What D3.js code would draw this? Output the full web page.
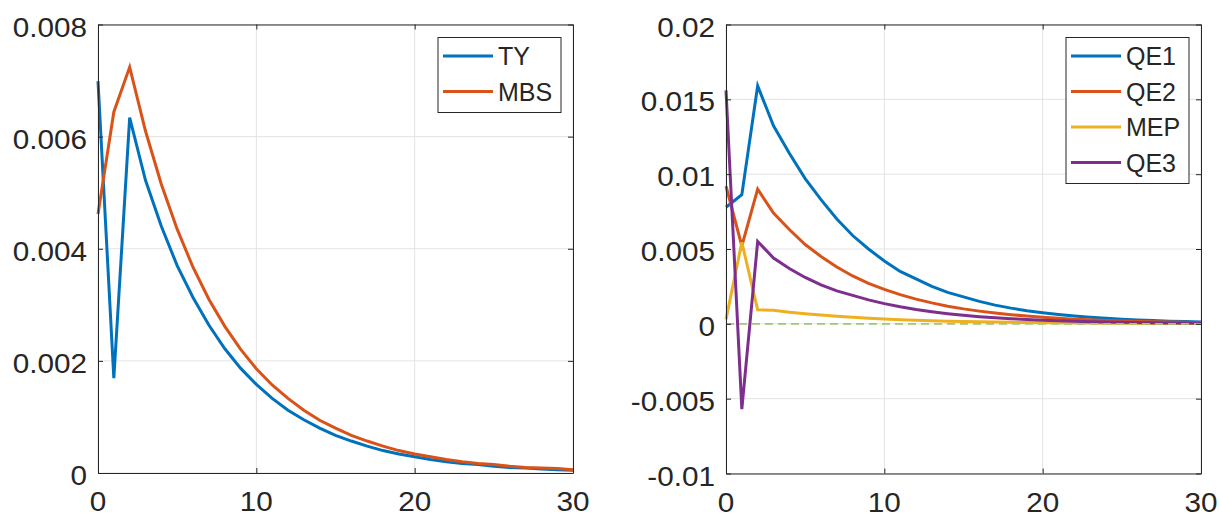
<!DOCTYPE html>
<html>
<head>
<meta charset="utf-8">
<script src="https://cdn.jsdelivr.net/npm/d3@7"></script>
<style>
  html, body { margin: 0; padding: 0; background: #fff; }
  svg { display: block; }
  text { font-family: Arial, "Liberation Sans", Helvetica, sans-serif; fill: #262626; }
</style>
</head>
<body>
<svg id="chart" width="1219" height="517"></svg>
<script>
// Horizon (periods after the shock)
const periods = d3.range(0, 31);

// Left panel: responses by asset class
const tyValues = [0.00699, 0.00169, 0.00634, 0.00522, 0.0044, 0.0037, 0.00313, 0.00264, 0.00222, 0.00187,
  0.00158, 0.00133, 0.00112, 0.00095, 0.0008, 0.00067, 0.00057, 0.00048, 0.0004, 0.00034,
  0.00029, 0.00024, 0.0002, 0.00017, 0.00015, 0.00012, 0.0001, 0.00009, 0.00007, 0.00006, 0.00005];
const mbsValues = [0.00462, 0.00644, 0.00724, 0.0061, 0.00515, 0.00435, 0.00367, 0.0031, 0.00262, 0.00221,
  0.00186, 0.00157, 0.00133, 0.00112, 0.00094, 0.0008, 0.00067, 0.00057, 0.00048, 0.0004,
  0.00034, 0.00029, 0.00024, 0.0002, 0.00017, 0.00015, 0.00012, 0.0001, 0.00009, 0.00008, 0.00006];

// Right panel: responses by programme
const qe1Values = [0.00779, 0.00863, 0.0159, 0.01323, 0.0114, 0.0097, 0.0083, 0.007, 0.0059, 0.005,
  0.0042, 0.0035, 0.003, 0.0025, 0.0021, 0.0018, 0.0015, 0.00125, 0.00105, 0.00088,
  0.00074, 0.00062, 0.00052, 0.00044, 0.00037, 0.00031, 0.00026, 0.00022, 0.00018, 0.00015, 0.00013];
const qe2Values = [0.0092, 0.0052, 0.009, 0.0074, 0.0063, 0.0053, 0.0045, 0.0038, 0.0032, 0.0027,
  0.0023, 0.00195, 0.00165, 0.0014, 0.00118, 0.001, 0.00085, 0.00072, 0.00061, 0.00052,
  0.00044, 0.00037, 0.00031, 0.00027, 0.00023, 0.00019, 0.00016, 0.00014, 0.00012, 0.0001, 0.00008];
const mepValues = [0.0003, 0.00545, 0.00094, 0.0009, 0.00078, 0.00068, 0.00059, 0.00051, 0.00044, 0.00038,
  0.00033, 0.00028, 0.00024, 0.00021, 0.00018, 0.00016, 0.00014, 0.00012, 0.0001, 0.00009,
  0.00008, 0.00007, 0.00006, 0.00005, 0.00004, 0.00004, 0.00003, 0.00003, 0.00002, 0.00002, 0.00002];
const qe3Values = [0.0156, -0.0057, 0.0055, 0.0044, 0.0037, 0.0031, 0.0026, 0.0022, 0.0019, 0.0016,
  0.00135, 0.00114, 0.00096, 0.00081, 0.00068, 0.00057, 0.00048, 0.0004, 0.00034, 0.00029,
  0.00024, 0.0002, 0.00017, 0.00014, 0.00012, 0.0001, 0.00009, 0.00007, 0.00006, 0.00005, 0.00004];

// Tick values
const xTicks = [0, 10, 20, 30];
const leftYTicks = [0, 0.002, 0.004, 0.006, 0.008];
const leftYLabels = ["0", "0.002", "0.004", "0.006", "0.008"];
const rightYTicks = [-0.01, -0.005, 0, 0.005, 0.01, 0.015, 0.02];
const rightYLabels = ["-0.01", "-0.005", "0", "0.005", "0.01", "0.015", "0.02"];

const colors = ["#0072BD", "#D95319", "#EDB120", "#7E2F8E"];

const svg = d3.select("#chart");

function panel(opts) {
  const { x0, x1, y0, y1, yDomain, yTicks, yLabels, series, zeroLine, legend } = opts;
  const x = d3.scaleLinear().domain([0, 30]).range([x0, x1]);
  const y = d3.scaleLinear().domain(yDomain).range([y1, y0]);
  const g = svg.append("g");

  // grid
  const grid = g.append("g").attr("stroke", "#e3e3e3").attr("stroke-width", 1);
  xTicks.forEach(t => grid.append("line")
    .attr("x1", x(t)).attr("x2", x(t)).attr("y1", y0).attr("y2", y1));
  yTicks.forEach(t => grid.append("line")
    .attr("x1", x0).attr("x2", x1).attr("y1", y(t)).attr("y2", y(t)));

  // series lines
  const line = d3.line().x((d, i) => x(periods[i])).y(d => y(d));
  series.forEach(s => g.append("path")
    .datum(s.values)
    .attr("fill", "none")
    .attr("stroke", s.color)
    .attr("stroke-width", 3)
    .attr("stroke-linejoin", "miter")
    .attr("d", line));

  if (zeroLine) {
    g.append("line")
      .attr("x1", x(0)).attr("x2", x(30)).attr("y1", y(0)).attr("y2", y(0))
      .attr("stroke", "#9ccc6e")
      .attr("stroke-width", 1.6).attr("stroke-dasharray", "8,5");
  }

  // axes (box on, inward ticks on every side)
  const axisColor = "#262626";
  const tick = 5;
  const bottom = d3.axisBottom(x).tickValues(xTicks).tickSizeInner(-tick).tickSizeOuter(0).tickFormat("");
  const top = d3.axisTop(x).tickValues(xTicks).tickSizeInner(-tick).tickSizeOuter(0).tickFormat("");
  const left = d3.axisLeft(y).tickValues(yTicks).tickSizeInner(-tick).tickSizeOuter(0).tickFormat("");
  const right = d3.axisRight(y).tickValues(yTicks).tickSizeInner(-tick).tickSizeOuter(0).tickFormat("");
  [[bottom, `translate(0,${y1})`], [top, `translate(0,${y0})`],
   [left, `translate(${x0},0)`], [right, `translate(${x1},0)`]].forEach(([ax, tr]) => {
    const a = g.append("g").attr("transform", tr).call(ax);
    a.selectAll("path, line").attr("stroke", axisColor).attr("stroke-width", 1);
  });

  // tick labels (slightly wide lettering)
  const stretch = 1.1;
  xTicks.forEach(t => g.append("text")
    .attr("transform", `translate(${x(t)},${y1 + 38}) scale(${stretch},1)`)
    .attr("text-anchor", "middle")
    .style("font-size", "27px")
    .text(String(t)));
  yTicks.forEach((t, i) => g.append("text")
    .attr("transform", `translate(${x0 - 11},${y(t) + 12}) scale(${stretch},1)`)
    .attr("text-anchor", "end")
    .style("font-size", "27px")
    .text(yLabels[i]));

  // legend
  const lg = g.append("g");
  const rowH = 35.5;
  const bx = legend.x, by = legend.y, bw = legend.w, bh = 2 + series.length * rowH + 2;
  lg.append("rect").attr("x", bx).attr("y", by).attr("width", bw).attr("height", bh)
    .attr("fill", "#fff").attr("stroke", axisColor).attr("stroke-width", 1);
  series.forEach((s, i) => {
    const cy = by + 18.5 + i * rowH;
    lg.append("line").attr("x1", bx + 5).attr("x2", bx + 55).attr("y1", cy).attr("y2", cy)
      .attr("stroke", s.color).attr("stroke-width", 3);
    lg.append("text").attr("x", bx + 60).attr("y", cy + 9)
      .style("font-size", "25px").text(s.name);
  });
}

panel({
  x0: 98, x1: 573, y0: 24.5, y1: 473,
  yDomain: [0, 0.008], yTicks: leftYTicks, yLabels: leftYLabels,
  series: [
    { name: "TY", values: tyValues, color: colors[0] },
    { name: "MBS", values: mbsValues, color: colors[1] }
  ],
  zeroLine: false,
  legend: { x: 438, y: 37.5, w: 123 }
});

panel({
  x0: 726, x1: 1201, y0: 24.5, y1: 473.5,
  yDomain: [-0.01, 0.02], yTicks: rightYTicks, yLabels: rightYLabels,
  series: [
    { name: "QE1", values: qe1Values, color: colors[0] },
    { name: "QE2", values: qe2Values, color: colors[1] },
    { name: "MEP", values: mepValues, color: colors[2] },
    { name: "QE3", values: qe3Values, color: colors[3] }
  ],
  zeroLine: true,
  legend: { x: 1066, y: 37.5, w: 123 }
});
</script>
</body>
</html>
